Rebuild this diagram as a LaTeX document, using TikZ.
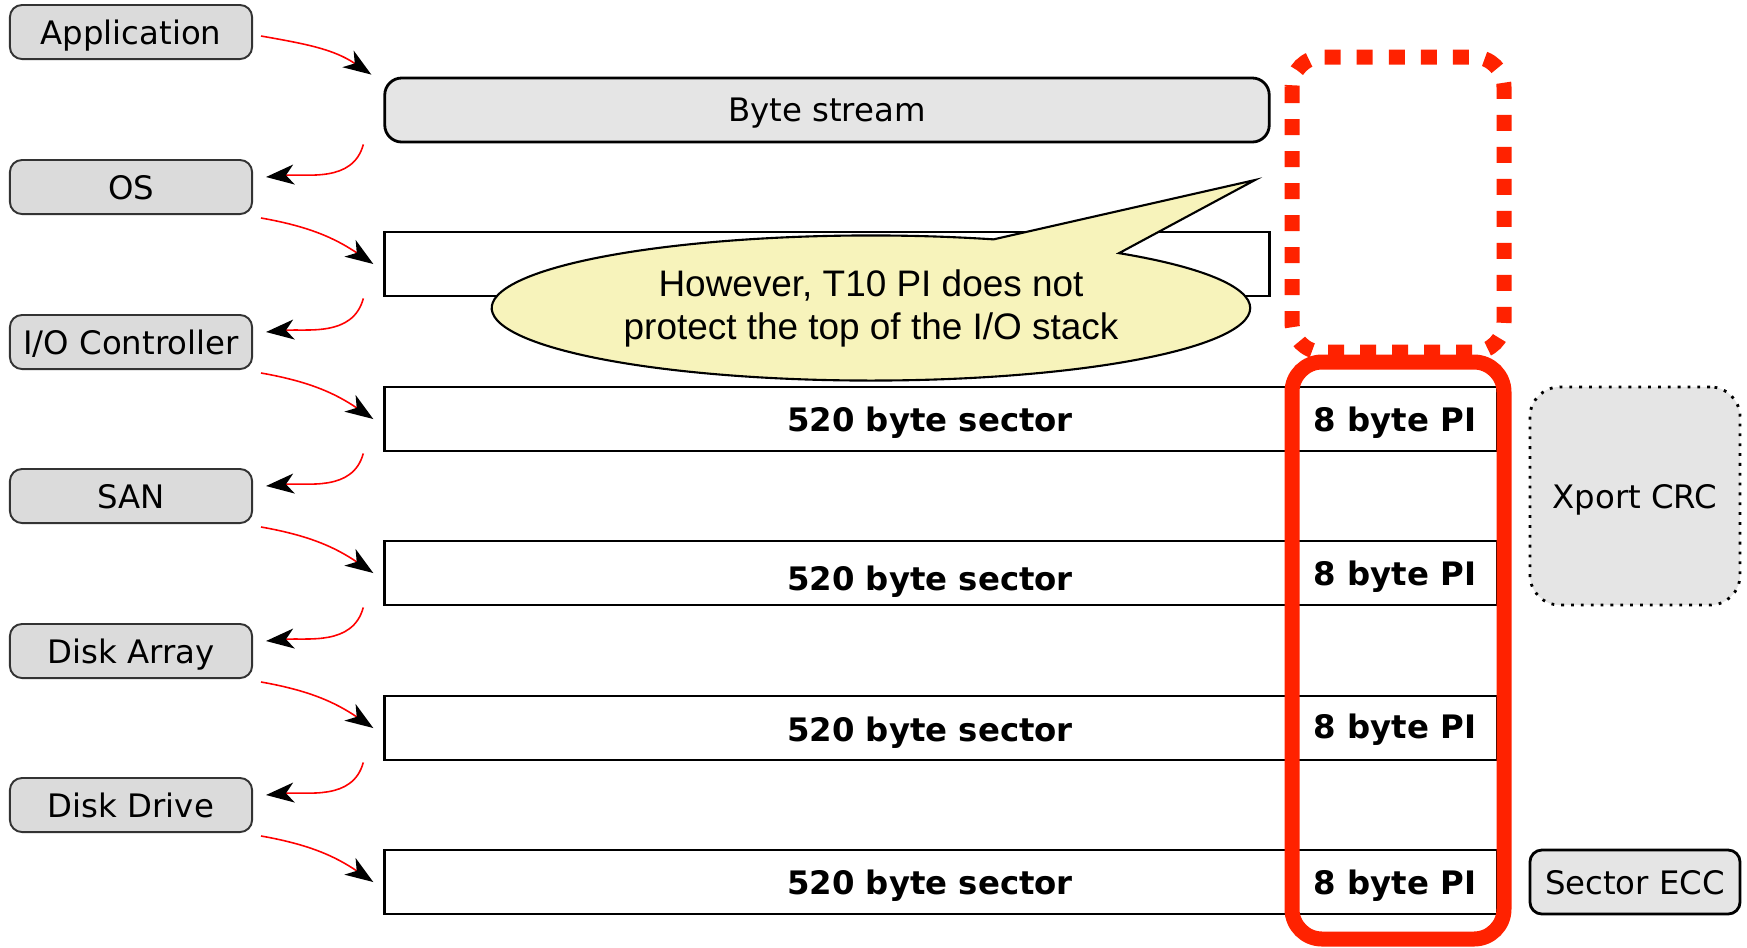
\documentclass[tikz,border=0pt]{standalone}
\usepackage{fontspec}
\setmainfont{DejaVu Sans}
\newfontfamily\notefont{Liberation Sans}
\usetikzlibrary{arrows.meta,shapes.callouts}
\definecolor{layerfill}{HTML}{DBDBDB}
\definecolor{streamfill}{HTML}{E5E5E5}
\definecolor{notefill}{HTML}{F7F3BB}
\definecolor{pired}{HTML}{FF2200}
\begin{document}
\begin{tikzpicture}[x=0.01cm, y=0.01cm,
  font=\fontsize{9.2}{11}\selectfont,
  layer/.style={draw=black!80, line width=0.55pt, fill=layerfill, rounded corners=0.12cm,
    minimum width=2.42cm, minimum height=0.54cm, inner sep=0pt, text depth=0pt},
  bar/.style={draw, line width=0.8pt, minimum height=0.64cm, inner sep=0pt, text depth=0pt},
  tag/.style={font=\fontsize{9.2}{11}\selectfont\bfseries, text depth=0pt},
  check/.style={draw, line width=0.8pt, fill=streamfill, minimum width=2.1cm, inner sep=0pt, text depth=0pt},
  frame/.style={pired, line width=0.15cm, rounded corners=0.3cm},
  flow/.style={red, line width=0.45pt,
    -{Stealth[length=0.28cm, width=0.2cm, inset=0.08cm, color=black]}}]
\useasboundingbox (0,0) rectangle (1747,-947);

% layers of the I/O stack
\node[layer] (app) at (131,-32) {Application};
\node[layer] (os) at (131,-187) {OS};
\node[layer] (ioc) at (131,-342) {I/O Controller};
\node[layer] (san) at (131,-496) {SAN};
\node[layer] (array) at (131,-651) {Disk Array};
\node[layer] (drive) at (131,-805) {Disk Drive};

% data at each layer
\node[bar, fill=streamfill, rounded corners=0.17cm, minimum width=8.84cm] (stream) at (827,-110) {Byte stream};
\node[bar, minimum width=8.84cm] (buf) at (827,-264) {};
\node[bar, minimum width=11.12cm] (sec1) at (941,-419) {};
\node[bar, minimum width=11.12cm] (sec2) at (941,-573) {};
\node[bar, minimum width=11.12cm] (sec3) at (941,-728) {};
\node[bar, minimum width=11.12cm] (sec4) at (941,-882) {};

\node[tag] (data1) at (930,-419) {520 byte sector};
\node[tag] (data2) at (930,-578) {520 byte sector};
\node[tag] (data3) at (930,-729) {520 byte sector};
\node[tag] (data4) at (930,-882) {520 byte sector};
\node[tag] (pi1) at (1395,-419) {8 byte PI};
\node[tag] (pi2) at (1395,-573) {8 byte PI};
\node[tag] (pi3) at (1395,-726) {8 byte PI};
\node[tag] (pi4) at (1395,-882) {8 byte PI};

\node[check, dotted, rounded corners=0.3cm, minimum height=2.18cm] (crc) at (1635,-496) {Xport CRC};
\node[check, rounded corners=0.12cm, minimum height=0.64cm] (ecc) at (1635,-882) {Sector ECC};

% the note
\node[ellipse callout, draw, line width=0.6pt, fill=notefill, minimum width=7.58cm, minimum height=1.45cm,
  callout absolute pointer={(1255,-180)}, callout pointer arc=22, align=center,
  font=\notefont\fontsize{10.5}{12.2}\selectfont] (note) at (871,-308)
  {However, T10 PI does not\\protect the top of the I/O stack};

% protected / unprotected span
\draw[frame, dash pattern=on 0.16cm off 0.16cm] (1292,-57) rectangle (1504,-352);
\draw[frame] (1292,-362) rectangle (1504,-939);

% down and up the stack
\draw[flow] ([shift={(8,-4)}]app.east) to[out=-10,in=146] ([shift={(-12,2)}]stream.north west);
\draw[flow] ([shift={(-20,-1)}]stream.south west) to[out=-105,in=5] ([shift={(13,10)}]os.east);
\draw[flow] ([shift={(8,-3)}]os.south east) to[out=-10,in=146] ([shift={(-10,0)}]buf.west);
\draw[flow] ([shift={(-20,-1)}]buf.south west) to[out=-105,in=5] ([shift={(13,10)}]ioc.east);
\draw[flow] ([shift={(8,-3)}]ioc.south east) to[out=-10,in=146] ([shift={(-10,0)}]sec1.west);
\draw[flow] ([shift={(-20,-1)}]sec1.south west) to[out=-105,in=5] ([shift={(13,10)}]san.east);
\draw[flow] ([shift={(8,-3)}]san.south east) to[out=-10,in=146] ([shift={(-10,0)}]sec2.west);
\draw[flow] ([shift={(-20,-1)}]sec2.south west) to[out=-105,in=5] ([shift={(13,10)}]array.east);
\draw[flow] ([shift={(8,-3)}]array.south east) to[out=-10,in=146] ([shift={(-10,0)}]sec3.west);
\draw[flow] ([shift={(-20,-1)}]sec3.south west) to[out=-105,in=5] ([shift={(13,10)}]drive.east);
\draw[flow] ([shift={(8,-3)}]drive.south east) to[out=-10,in=146] ([shift={(-10,0)}]sec4.west);
\end{tikzpicture}
\end{document}
